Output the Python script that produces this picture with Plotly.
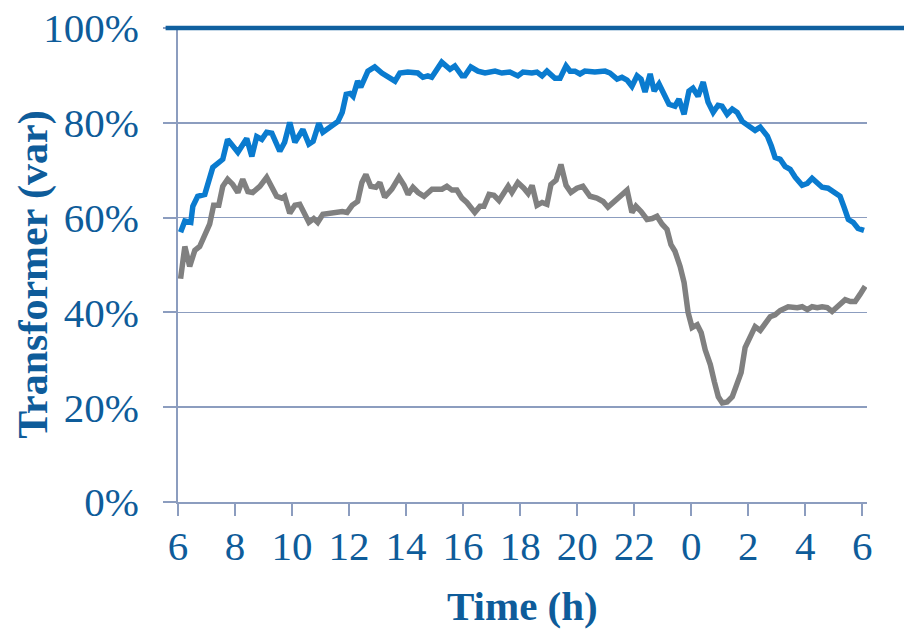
import plotly.graph_objects as go

# hours since midnight of day 1 (6 -> 30 covers 6:00 to 6:00 next day)
blue_t = [6.09, 6.24, 6.45, 6.52, 6.69, 6.94, 7.22, 7.57, 7.74, 8.10, 8.41, 8.59, 8.76, 8.94,
          9.11, 9.29, 9.57, 9.74, 9.92, 10.10, 10.38, 10.59, 10.74, 10.94, 11.08, 11.40, 11.61,
          11.76, 11.90, 12.04, 12.14, 12.30, 12.41, 12.66, 12.90, 13.15, 13.43, 13.61, 13.78,
          14.06, 14.41, 14.59, 14.76, 14.90, 15.25, 15.54, 15.71, 15.96, 16.06, 16.27, 16.52,
          16.77, 17.12, 17.36, 17.64, 17.92, 18.10, 18.41, 18.59, 18.77, 18.94, 19.22, 19.40,
          19.61, 19.75, 19.92, 20.10, 20.27, 20.62, 20.98, 21.15, 21.40, 21.57, 21.75, 21.92,
          22.10, 22.24, 22.38, 22.56, 22.70, 22.87, 23.08, 23.22, 23.43, 23.57, 23.75, 23.92,
          24.06, 24.24, 24.42, 24.59, 24.77, 24.94, 25.08, 25.26, 25.44, 25.61, 25.79, 26.07,
          26.24, 26.42, 26.67, 26.81, 26.94, 27.12, 27.29, 27.47, 27.65, 27.89, 28.07, 28.24,
          28.42, 28.59, 28.80, 28.98, 29.22, 29.36, 29.51, 29.68, 29.85, 30.06]
blue_v = [56.9, 59.3, 59.0, 62.4, 64.5, 64.9, 70.6, 72.3, 76.5, 73.8, 76.7, 72.9, 77.1, 76.5,
          78.0, 77.8, 74.0, 75.9, 80.1, 75.9, 78.6, 75.5, 76.1, 79.9, 78.0, 79.5, 80.3,
          82.2, 86.0, 86.2, 85.6, 88.8, 87.5, 90.9, 91.8, 90.5, 89.6, 88.8, 90.5,
          90.7, 90.5, 89.6, 89.9, 89.6, 92.8, 91.3, 92.0, 89.9, 89.9, 91.8, 90.9,
          90.5, 90.9, 90.5, 90.7, 89.9, 90.7, 90.5, 90.7, 89.9, 90.9, 89.4, 89.4,
          92.0, 90.9, 90.9, 90.3, 90.9, 90.7, 90.9, 90.5, 89.2, 89.6, 89.0, 87.7,
          89.9, 89.2, 86.5, 90.3, 86.7, 88.2, 85.6, 83.9, 83.5, 85.0, 81.8, 86.7,
          87.3, 85.6, 88.6, 84.4, 82.2, 83.7, 83.5, 81.8, 82.9, 82.2, 80.3, 79.3,
          78.4, 79.1, 77.2, 75.1, 72.7, 72.3, 70.8, 70.2, 68.5, 66.8, 67.2, 68.3,
          67.2, 66.4, 66.2, 65.5, 64.5, 62.2, 59.6, 59.0, 57.7, 57.3]

gray_t = [6.09, 6.24, 6.41, 6.59, 6.76, 6.94, 7.11, 7.25, 7.43, 7.57, 7.74, 7.92, 8.10, 8.27,
          8.45, 8.62, 8.87, 9.11, 9.29, 9.46, 9.64, 9.74, 9.92, 10.10, 10.27, 10.45, 10.59,
          10.76, 10.90, 11.08, 11.40, 11.61, 11.76, 11.93, 12.11, 12.30, 12.45, 12.59, 12.76,
          12.94, 13.08, 13.25, 13.50, 13.75, 13.93, 14.07, 14.24, 14.42, 14.63, 14.91, 15.26,
          15.43, 15.61, 15.78, 15.96, 16.13, 16.24, 16.41, 16.59, 16.73, 16.91, 17.08, 17.26,
          17.58, 17.71, 17.92, 18.13, 18.28, 18.42, 18.59, 18.77, 18.94, 19.08, 19.26, 19.43,
          19.61, 19.78, 19.99, 20.20, 20.45, 20.69, 20.91, 21.08, 21.26, 21.43, 21.57, 21.75,
          21.92, 22.06, 22.24, 22.45, 22.63, 22.80, 22.98, 23.15, 23.29, 23.43, 23.61, 23.75,
          23.89, 24.03, 24.21, 24.35, 24.49, 24.67, 24.81, 24.95, 25.09, 25.26, 25.44, 25.61,
          25.75, 25.89, 26.07, 26.24, 26.42, 26.59, 26.77, 26.94, 27.12, 27.40, 27.72, 27.89,
          28.07, 28.24, 28.42, 28.59, 28.77, 28.94, 29.15, 29.40, 29.58, 29.75, 29.92, 30.10]
gray_v = [47.1, 53.9, 49.7, 53.1, 53.9, 56.4, 58.6, 62.6, 62.6, 66.6, 68.1, 67.0, 65.3, 68.1,
          65.5, 65.3, 66.6, 68.5, 66.6, 64.5, 64.1, 64.5, 60.9, 62.6, 62.8, 60.7, 59.0,
          59.8, 59.0, 60.7, 60.9, 61.1, 61.3, 61.1, 62.6, 63.4, 67.4, 69.1, 66.6,
          66.4, 67.4, 64.3, 66.0, 68.5, 66.8, 64.9, 66.4, 65.3, 64.5, 66.0, 66.0,
          66.6, 65.8, 65.8, 64.1, 63.2, 62.2, 61.1, 62.4, 62.4, 64.9, 64.7, 63.6,
          66.6, 65.3, 67.4, 66.2, 65.1, 66.8, 62.6, 63.2, 62.8, 67.0, 67.9, 71.2,
          66.8, 65.3, 66.2, 66.6, 64.5, 64.1, 63.4, 62.2, 63.2, 63.8, 64.7, 65.8,
          61.1, 62.4, 61.3, 59.6, 59.8, 60.3, 58.6, 57.5, 54.3, 52.9, 49.7, 46.3,
          40.0, 36.8, 37.4, 35.7, 32.1, 29.0, 25.4, 22.2, 20.9, 21.1, 22.2, 24.7,
          27.3, 32.6, 34.7, 37.0, 36.2, 37.8, 39.1, 39.5, 40.4, 41.2, 41.0, 41.2,
          40.6, 41.2, 41.0, 41.2, 41.0, 40.2, 41.2, 42.7, 42.3, 42.3, 43.8, 45.5]

x_tickvals = [6, 8, 10, 12, 14, 16, 18, 20, 22, 24, 26, 28, 30]
x_ticktext = ["6", "8", "10", "12", "14", "16", "18", "20", "22", "0", "2", "4", "6"]
y_tickvals = [0, 20, 40, 60, 80, 100]
y_ticktext = ["0%", "20%", "40%", "60%", "80%", "100%"]

TEXT = "#0e5c9a"
GRID = "#8c9dbf"
FONT = "Liberation Serif"

fig = go.Figure()
fig.add_trace(go.Scatter(x=gray_t, y=gray_v, mode="lines", hoverinfo="skip",
                         line=dict(color="#808080", width=5.5), showlegend=False))
fig.add_trace(go.Scatter(x=blue_t, y=blue_v, mode="lines", hoverinfo="skip",
                         line=dict(color="#0a7bcf", width=5.5), showlegend=False))

fig.update_layout(
    width=904, height=629,
    margin=dict(l=178, r=37, t=28, b=127, autoexpand=False),
    paper_bgcolor="white", plot_bgcolor="white",
    font=dict(family=FONT, size=41, color=TEXT),
    hovermode=False,
    xaxis=dict(range=[6, 30.165], tickvals=x_tickvals, ticktext=x_ticktext,
               showgrid=False, zeroline=False, showline=True, linecolor=GRID, linewidth=2,
               ticks="outside", ticklen=12, tickwidth=2, tickcolor=GRID,
               ticklabeloverflow="allow",
               tickfont=dict(family=FONT, size=41, color=TEXT), ticklabelstandoff=-5),
    yaxis=dict(range=[0, 100], tickvals=y_tickvals, ticktext=y_ticktext,
               showgrid=True, gridcolor=GRID, gridwidth=1.5, zeroline=False,
               showline=True, linecolor=GRID, linewidth=2,
               ticks="outside", ticklen=13, tickwidth=2, tickcolor=GRID,
               ticklabeloverflow="allow",
               tickfont=dict(family=FONT, size=41, color=TEXT), ticklabelstandoff=16),
    shapes=[dict(type="line", xref="paper", yref="paper", x0=-0.018, x1=1.06, y0=1, y1=1,
                 line=dict(color="#10609f", width=4.5), layer="above")],
    annotations=[
        dict(text="<b>Time (h)</b>", xref="paper", yref="paper", x=0.5, y=-0.22,
             xanchor="center", yanchor="middle", showarrow=False,
             font=dict(family=FONT, size=41, color=TEXT)),
        dict(text="<b>Transformer (var)</b>", xref="paper", yref="paper", x=-0.21, y=0.48,
             xanchor="center", yanchor="middle", showarrow=False, textangle=-90,
             font=dict(family=FONT, size=42, color=TEXT)),
    ],
)

fig.write_html("out.html", config={"displayModeBar": False, "staticPlot": True},
               post_script="document.body.style.margin='0';document.body.style.overflow='hidden';")
